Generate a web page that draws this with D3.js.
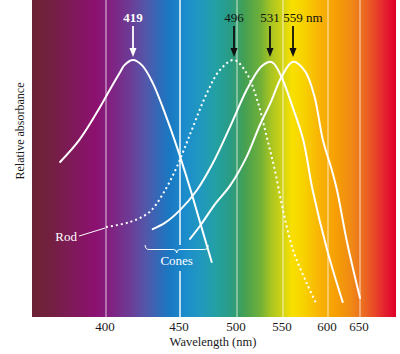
<!DOCTYPE html>
<html>
<head>
<meta charset="utf-8">
<script src="https://cdn.jsdelivr.net/npm/d3@7"></script>
<style>
  body { margin: 0; background: #fff; }
  text { font-family: "Liberation Serif", "DejaVu Serif", serif; }
</style>
</head>
<body>
<div id="chart"></div>
<script>
// wavelength ticks on the bottom
const tickValues = [400, 450, 500, 550, 600, 650];

// peak labels (nm), the first one gets a white arrow
const peaks = [419, 496, 531, 559];
const peakLabels = ["419", "496", "531", "559"];

// absorbance curves, [wavelength nm, relative absorbance]
const sCone = [[369, 0.603], [382, 0.689], [396, 0.817], [401, 0.868], [410, 0.953], [413, 0.980],
  [419, 1.0], [425, 0.979], [432, 0.911], [441, 0.778], [448, 0.661], [458.5, 0.502],
  [467, 0.370], [477, 0.214]];
const rod = [[400, 0.350], [417, 0.370], [430, 0.409], [439, 0.482], [447, 0.572], [454, 0.658],
  [461, 0.739], [473, 0.872], [484, 0.961], [496, 1.0], [509, 0.949], [519, 0.844],
  [528, 0.700], [538, 0.572], [550, 0.416], [559, 0.261], [575, 0.132], [587, 0.047]];
const mCone = [[432, 0.342], [440, 0.366], [450, 0.416], [464.5, 0.494], [478, 0.599],
  [492.5, 0.739], [509, 0.883], [520, 0.961], [525, 0.982], [531, 0.993], [537, 0.985],
  [548.5, 0.930], [559, 0.813], [571, 0.689], [582, 0.494], [599, 0.261], [623, 0.058]];
const lCone = [[458.5, 0.304], [467, 0.354], [480, 0.440], [492.5, 0.510], [509, 0.623],
  [521.5, 0.747], [531, 0.829], [548.5, 0.938], [559, 0.993], [573, 0.957], [584, 0.860],
  [594, 0.689], [606, 0.572], [614, 0.494], [630, 0.288], [650, 0.074]];

// cone brace spans these wavelengths
const coneBrace = [427, 474];

// spectrum colours behind the plot
const spectrum = [[350, "#6c2236"], [362, "#72203e"], [376, "#7e1a58"], [393, "#8c1070"],
  [403, "#822080"], [417, "#6c3c96"], [427, "#5456a8"], [437, "#2e6cba"], [443, "#1a78c2"],
  [454, "#1c8ccc"], [467, "#2098c0"], [480, "#22a0a4"], [493, "#2a9c84"], [507, "#44a052"],
  [522, "#70b038"], [532, "#a6c422"], [550, "#d4d412"], [558, "#f8e000"], [573, "#f8d000"],
  [590, "#f8b406"], [611, "#f6a004"], [634, "#f08c12"], [653, "#ec7020"], [673, "#e84828"],
  [689, "#e42030"], [706, "#e00028"]];

const W = 400, H = 354;
const plot = { left: 32, right: 396, top: 0, bottom: 317 };

// the wavelength axis is stretched, calibrated against the printed ticks
const x = d3.scaleLinear()
  .domain([350, 400, 419, 450, 496, 500, 531, 550, 559, 600, 650, 706])
  .range([32, 106, 133, 180, 234, 237, 270, 283, 293, 328, 360, 396]);
const y = d3.scaleLinear().domain([0, 1]).range([plot.bottom, 60]);

const svg = d3.select("#chart").append("svg")
  .attr("width", W).attr("height", H);

const defs = svg.append("defs");
const grad = defs.append("linearGradient")
  .attr("id", "spec")
  .attr("gradientUnits", "userSpaceOnUse")
  .attr("x1", plot.left).attr("x2", plot.right)
  .attr("y1", 0).attr("y2", 0);
grad.selectAll("stop").data(spectrum).join("stop")
  .attr("offset", d => (x(d[0]) - plot.left) / (plot.right - plot.left))
  .attr("stop-color", d => d[1]);

svg.append("rect")
  .attr("x", plot.left).attr("y", plot.top)
  .attr("width", plot.right - plot.left)
  .attr("height", plot.bottom - plot.top)
  .attr("fill", "url(#spec)");

// gap in the grid under the "Cones" label
const xm = (x(coneBrace[0]) + x(coneBrace[1])) / 2;
const mask = defs.append("mask").attr("id", "gridMask");
mask.append("rect").attr("x", 0).attr("y", 0).attr("width", W).attr("height", H).attr("fill", "#fff");
mask.append("rect").attr("x", xm - 30).attr("y", 245).attr("width", 60).attr("height", 26).attr("fill", "#000");

svg.append("g").attr("mask", "url(#gridMask)")
  .selectAll("line").data(tickValues).join("line")
  .attr("x1", d => x(d)).attr("x2", d => x(d))
  .attr("y1", plot.top).attr("y2", plot.bottom)
  .attr("stroke", "#fff")
  .attr("stroke-width", 1.5)
  .attr("stroke-opacity", d => d === 450 ? 0.95 : 0.5);

// tick labels
svg.append("g").selectAll("text").data(tickValues).join("text")
  .attr("x", d => x(d) - 1).attr("y", 331)
  .attr("text-anchor", "middle")
  .attr("font-size", "13px")
  .attr("fill", "#1a1a1a")
  .text(d => d);

svg.append("text")
  .attr("x", 213).attr("y", 346)
  .attr("text-anchor", "middle")
  .attr("font-size", "12.5px")
  .attr("fill", "#1a1a1a")
  .text("Wavelength (nm)");

svg.append("text")
  .attr("transform", "translate(24,131) rotate(-90)")
  .attr("text-anchor", "middle")
  .attr("font-size", "12px")
  .attr("fill", "#1a1a1a")
  .text("Relative absorbance");

// curves
const line = d3.line()
  .x(d => x(d[0]))
  .y(d => y(d[1]))
  .curve(d3.curveCatmullRom.alpha(0.5));

[sCone, mCone, lCone].forEach(c => {
  svg.append("path")
    .datum(c)
    .attr("fill", "none")
    .attr("stroke", "#fff")
    .attr("stroke-width", 2)
    .attr("stroke-linecap", "round")
    .attr("d", line);
});
svg.append("path")
  .datum(rod)
  .attr("fill", "none")
  .attr("stroke", "#fff")
  .attr("stroke-width", 2)
  .attr("stroke-dasharray", "2,3")
  .attr("d", line);

// peak arrows
peaks.forEach((p, i) => {
  const px = x(p);
  const tip = y(1) - 3;
  const col = i === 0 ? "#fff" : "#111";
  svg.append("line")
    .attr("x1", px).attr("x2", px)
    .attr("y1", 26).attr("y2", tip - 6)
    .attr("stroke", col).attr("stroke-width", 1.8);
  svg.append("path")
    .attr("d", `M${px - 3.5},${tip - 9} L${px + 3.5},${tip - 9} L${px},${tip} Z`)
    .attr("fill", col);
  svg.append("text")
    .attr("x", px).attr("y", 22)
    .attr("text-anchor", "middle")
    .attr("font-size", "13px")
    .attr("font-weight", i === 0 ? "bold" : "normal")
    .attr("fill", col)
    .text(peakLabels[i]);
});
svg.append("text")
  .attr("x", x(559) + 13).attr("y", 22)
  .attr("font-size", "13px")
  .attr("fill", "#111")
  .text("nm");

// Rod label with leader
const r0 = [x(rod[0][0]), y(rod[0][1])];
svg.append("line")
  .attr("x1", r0[0] - 27).attr("y1", r0[1] + 9)
  .attr("x2", r0[0] - 1).attr("y2", r0[1] + 1)
  .attr("stroke", "#fff").attr("stroke-width", 1);
svg.append("text")
  .attr("x", r0[0] - 29).attr("y", 241)
  .attr("text-anchor", "end")
  .attr("font-size", "13px")
  .attr("fill", "#fff")
  .text("Rod");

// Cones brace
const b0 = x(coneBrace[0]), b1 = x(coneBrace[1]);
svg.append("path")
  .attr("d", `M${b0},245 Q${b0},249.5 ${b0 + 4},249.5 L${xm - 3},249.5 Q${xm},249.5 ${xm},253 ` +
    `Q${xm},249.5 ${xm + 3},249.5 L${b1 - 4},249.5 Q${b1},249.5 ${b1},245`)
  .attr("fill", "none")
  .attr("stroke", "#fff")
  .attr("stroke-width", 1);
svg.append("text")
  .attr("x", xm).attr("y", 265)
  .attr("text-anchor", "middle")
  .attr("font-size", "13px")
  .attr("fill", "#fff")
  .text("Cones");
</script>
</body>
</html>
